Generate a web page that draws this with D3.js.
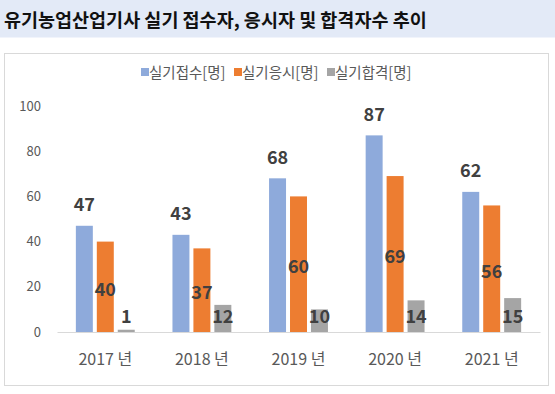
<!DOCTYPE html>
<html><head><meta charset="utf-8">
<script src="https://cdn.jsdelivr.net/npm/d3@7"></script>
<style>body{margin:0;background:#fff;}svg{display:block;}</style>
</head><body>
<script>
const categories = ["2017 년","2018 년","2019 년","2020 년","2021 년"];
const seriesNames = ["실기접수[명]","실기응시[명]","실기합격[명]"];
const applicants = [47,43,68,87,62];
const takers = [40,37,60,69,56];
const passers = [1,12,10,14,15];
const yTicks = [0,20,40,60,80,100];
const titleText = "유기농업산업기사 실기 접수자, 응시자 및 합격자수 추이";
const colors = ["#8eaadb","#ed7d31","#a5a5a5"];

const W=555,H=394;
const svg=d3.select("body").append("svg").attr("width",W).attr("height",H);
const font="'Malgun Gothic','Noto Sans CJK KR',sans-serif";

svg.append("rect").attr("x",0).attr("y",0).attr("width",W).attr("height",37.5).attr("fill","#e3eaf7");
svg.append("text").attr("x",4).attr("y",27).text(titleText)
  .attr("font-family",font).attr("font-weight","bold").attr("font-size",18.5).attr("fill","#111");

svg.append("rect").attr("x",4.5).attr("y",53.5).attr("width",544).attr("height",332)
  .attr("fill","#fff").attr("stroke","#d9d9d9");

const x=d3.scaleBand().domain(categories).range([57,540]);
const inner=d3.scaleBand().domain(d3.range(3)).range([0,x.bandwidth()]).paddingInner(0.19).paddingOuter(0.9);
const y=d3.scaleLinear().domain([0,100]).range([332,106]);

const g=svg.append("g");
const data=[applicants,takers,passers];
data.forEach((vals,s)=>{
  g.selectAll(null).data(vals).enter().append("rect")
   .attr("x",(d,i)=>x(categories[i])+inner(s))
   .attr("width",inner.bandwidth())
   .attr("y",d=>y(d)).attr("height",d=>y(0)-y(d))
   .attr("fill",colors[s]);
});

const ax=svg.append("g").attr("transform","translate(0,332)")
  .call(d3.axisBottom(x).tickSize(0).tickPadding(22));
ax.select(".domain").attr("stroke","#d9d9d9");
ax.selectAll("text").attr("font-family",font).attr("font-size",16).attr("fill","#595959");

const ay=svg.append("g").attr("transform","translate(41,0)")
  .call(d3.axisLeft(y).tickValues(yTicks).tickSize(0).tickPadding(0));
ay.select(".domain").remove();
ay.selectAll("text").attr("font-family",font).attr("font-size",13).attr("fill","#595959");

const lblStyle=sel=>sel.attr("font-family",font).attr("font-weight","bold").attr("font-size",18)
  .attr("fill","#404040").attr("text-anchor","middle").attr("dominant-baseline","central");
lblStyle(g.selectAll(null).data(applicants).enter().append("text")
  .attr("x",(d,i)=>x(categories[i])+inner(0)+inner.bandwidth()/2)
  .attr("y",d=>y(d)-22.5).text(d=>d));
lblStyle(g.selectAll(null).data(takers).enter().append("text")
  .attr("x",(d,i)=>x(categories[i])+inner(1)+inner.bandwidth()/2)
  .attr("y",d=>(y(d)+y(0))/2+1).text(d=>d));
lblStyle(g.selectAll(null).data(passers).enter().append("text")
  .attr("x",(d,i)=>x(categories[i])+inner(2)+inner.bandwidth()/2)
  .attr("y",y(0)-17).text(d=>d));

const legX=[141,234,327];
const leg=svg.append("g");
seriesNames.forEach((n,i)=>{
  leg.append("rect").attr("x",legX[i]).attr("y",68).attr("width",8).attr("height",8).attr("fill",colors[i]);
  leg.append("text").attr("x",legX[i]+8).attr("y",71).attr("dominant-baseline","central")
   .attr("font-family",font).attr("font-size",14.5).attr("fill","#595959").text(n);
});
</script>
</body></html>
